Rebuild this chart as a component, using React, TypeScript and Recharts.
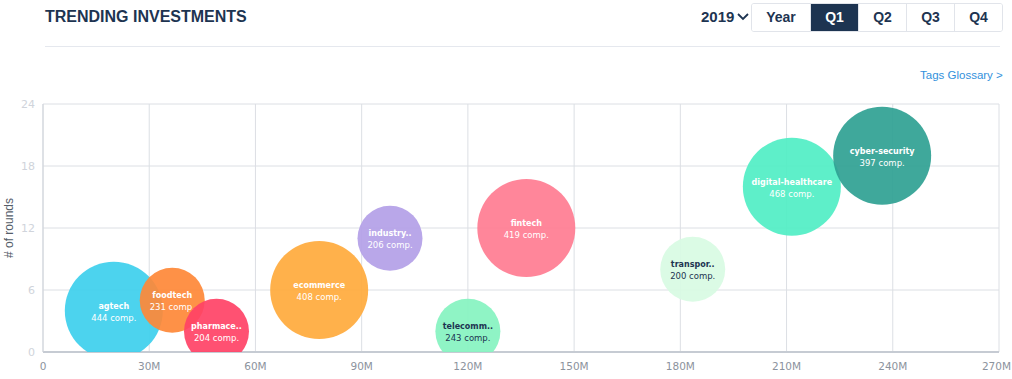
import React from "react";
import { CartesianGrid, Scatter, ScatterChart, XAxis, YAxis } from "recharts";

const tags = [
  "agtech",
  "foodtech",
  "pharmace..",
  "ecommerce",
  "industry..",
  "telecomm..",
  "fintech",
  "transpor..",
  "digital-healthcare",
  "cyber-security",
];
const amounts = [20, 36.5, 49, 78, 98, 120, 136.5, 183.5, 211.5, 237];
const rounds = [4, 5, 2, 6, 11, 2, 12, 8, 16, 19];
const companies = [444, 231, 204, 408, 206, 243, 419, 200, 468, 397];
const colors = [
  "#3dcfed",
  "#fe8837",
  "#ff4266",
  "#ffaa3c",
  "#b3a0e7",
  "#86f3c0",
  "#ff7c91",
  "#d8fbe3",
  "#50eec4",
  "#2fa193",
];
const darkText = ["telecomm..", "transpor.."];

const xTicks = [0, 30, 60, 90, 120, 150, 180, 210, 240, 270];
const yTicks = [0, 6, 12, 18, 24];
const periods = ["Year", "Q1", "Q2", "Q3", "Q4"];

const data = tags.map((tag, i) => ({
  tag,
  x: amounts[i],
  y: rounds[i],
  comp: companies[i],
  color: colors[i],
}));

const navy = "#1d3451";
const tickFont = "DejaVu Sans, Verdana, sans-serif";

// big bubbles for the larger tags, small ones for the rest
const Bubble = (props: any) => {
  const { cx, cy, payload } = props;
  const r = payload.comp >= 300 ? 49 : 32.5;
  const txt = darkText.includes(payload.tag) ? navy : "#ffffff";
  return (
    <g>
      <circle cx={cx} cy={cy} r={r} fill={payload.color} fillOpacity={0.92} />
      <text
        x={cx}
        y={cy - 2}
        textAnchor="middle"
        fontFamily={tickFont}
        fontWeight="bold"
        fontSize={8}
        fill={txt}
      >
        {payload.tag}
      </text>
      <text
        x={cx}
        y={cy + 10}
        textAnchor="middle"
        fontFamily={tickFont}
        fontSize={8.5}
        fill={txt}
      >
        {payload.comp} comp.
      </text>
    </g>
  );
};

// last label sits at the page edge, keep it inside
const XTick = (props: any) => {
  const { x, y, payload } = props;
  const v = payload.value;
  const last = v === xTicks[xTicks.length - 1];
  return (
    <text
      x={last ? x + 12 : x}
      y={y + 10}
      textAnchor={last ? "end" : "middle"}
      fontFamily={tickFont}
      fontSize={10.5}
      fill="#8c939d"
    >
      {v === 0 ? "0" : `${v}M`}
    </text>
  );
};

const App = () => {
  return (
    <div
      style={{
        position: "absolute",
        left: 0,
        top: 0,
        width: 1012,
        height: 379,
        background: "#fff",
        fontFamily: "Liberation Sans, Arial, sans-serif",
        overflow: "hidden",
      }}
    >
      <div
        style={{
          position: "absolute",
          left: 45,
          top: 8,
          fontSize: 16,
          fontWeight: "bold",
          color: navy,
        }}
      >
        TRENDING INVESTMENTS
      </div>
      <div
        style={{
          position: "absolute",
          left: 45,
          top: 46,
          width: 955,
          height: 1,
          background: "#e5e8ee",
        }}
      />
      <div
        style={{
          position: "absolute",
          left: 701,
          top: 8,
          fontSize: 15,
          fontWeight: "bold",
          color: navy,
          display: "flex",
          alignItems: "center",
          gap: 3,
        }}
      >
        2019
        <svg width={12} height={8}>
          <polyline points="1,1 6,6 11,1" fill="none" stroke={navy} strokeWidth={1.8} />
        </svg>
      </div>
      <div
        style={{
          position: "absolute",
          left: 751,
          top: 3,
          height: 27,
          display: "flex",
          border: "1px solid #e1e4ea",
          borderRadius: 3,
          overflow: "hidden",
        }}
      >
        {periods.map((p, i) => (
          <div
            key={p}
            style={{
              width: i === 0 ? 58 : 47,
              lineHeight: "27px",
              textAlign: "center",
              fontSize: 14,
              fontWeight: "bold",
              color: p === "Q1" ? "#fff" : navy,
              background: p === "Q1" ? navy : "#fff",
              borderLeft: i === 0 ? "none" : "1px solid #e1e4ea",
            }}
          >
            {p}
          </div>
        ))}
      </div>
      <div
        style={{
          position: "absolute",
          left: 920,
          top: 69,
          fontSize: 11.5,
          color: "#3291dc",
        }}
      >
        Tags Glossary &gt;
      </div>
      <div
        style={{
          position: "absolute",
          left: 9,
          top: 228,
          fontSize: 12,
          color: "#555d69",
          transform: "translate(-50%, -50%) rotate(-90deg)",
          whiteSpace: "nowrap",
        }}
      >
        # of rounds
      </div>
      <div style={{ position: "absolute", left: 0, top: 0 }}>
        <ScatterChart
          width={1012}
          height={379}
          margin={{ top: 104, right: 13, bottom: 7, left: 8 }}
        >
          <CartesianGrid stroke="#dcdfe4" strokeWidth={1} />
          <XAxis
            type="number"
            dataKey="x"
            domain={[0, 270]}
            ticks={xTicks}
            height={20}
            tick={<XTick />}
            tickLine={false}
            axisLine={{ stroke: "#c6cbd3", strokeWidth: 2 }}
            interval={0}
          />
          <YAxis
            type="number"
            dataKey="y"
            domain={[0, 24]}
            ticks={yTicks}
            width={35}
            allowDataOverflow
            tick={{ fill: "#d0d4db", fontSize: 11, fontFamily: tickFont }}
            tickLine={false}
            axisLine={{ stroke: "#cfd3da" }}
            interval={0}
          />
          <Scatter data={data} shape={Bubble} isAnimationActive={false} />
        </ScatterChart>
      </div>
    </div>
  );
};

export default App;
